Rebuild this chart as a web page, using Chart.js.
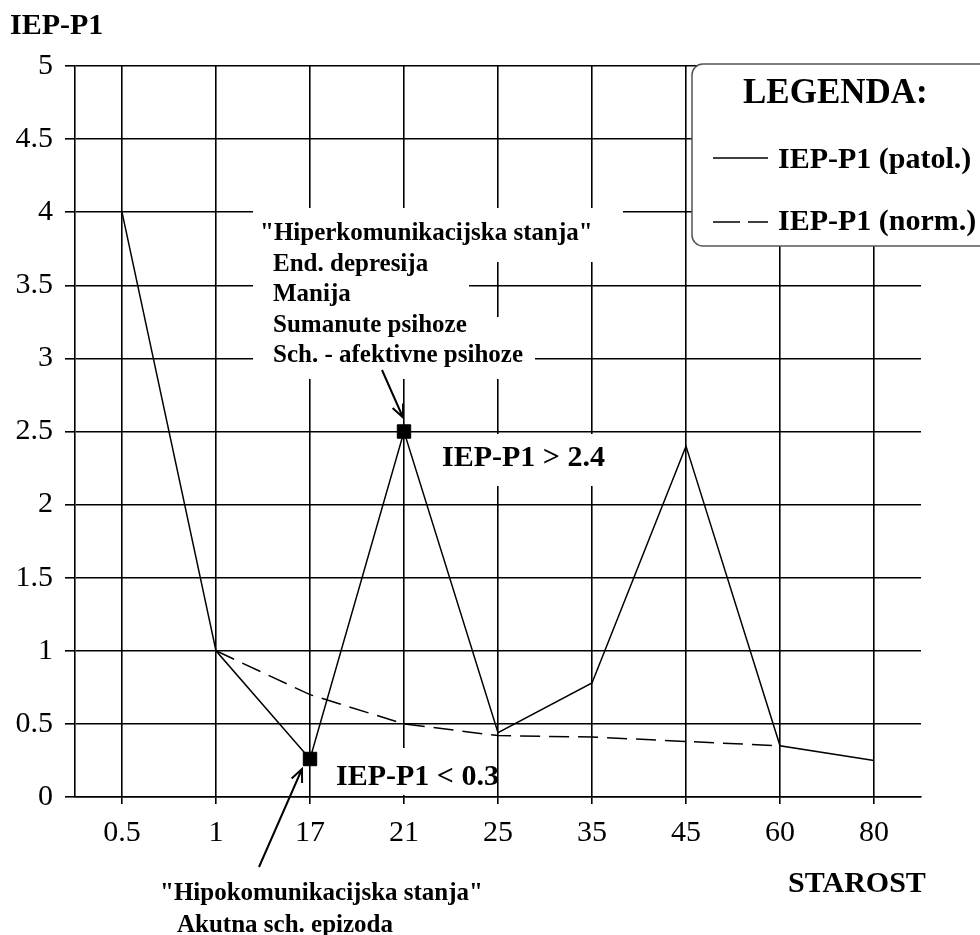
<!DOCTYPE html>
<html>
<head>
<meta charset="utf-8">
<script src="https://cdn.jsdelivr.net/npm/chart.js@4/dist/chart.umd.min.js"></script>
<style>
    html, body { margin: 0; padding: 0; background: #fff; }
    #wrap { width: 980px; height: 935px; position: relative; }
</style>
</head>
<body>
<div id="wrap"><canvas id="iepChart"></canvas></div>
<script>
const ages = ['0.5', '1', '17', '21', '25', '35', '45', '60', '80'];
const patolValues = [4, 1, 0.26, 2.5, 0.44, 0.78, 2.4, 0.35, 0.25];
const normValues = [null, 1, 0.7, 0.5, 0.42, 0.41, 0.38, 0.35, null];
const markedAges = ['17', '21'];

const hiperLines = ['"Hiperkomunikacijska stanja"', 'End. depresija', 'Manija', 'Sumanute psihoze', 'Sch. - afektivne psihoze'];
const hipoLines = ['"Hipokomunikacijska stanja"', 'Akutna sch. epizoda'];
const legendLabels = ['IEP-P1 (patol.)', 'IEP-P1 (norm.)'];

const SERIF = '"Liberation Serif", "Times New Roman", serif';

function arrow(ctx, x1, y1, x2, y2) {
    const a = Math.atan2(y2 - y1, x2 - x1), h = 14, s = 0.42;
    ctx.beginPath();
    ctx.moveTo(x1, y1); ctx.lineTo(x2, y2);
    ctx.moveTo(x2 - h * Math.cos(a - s), y2 - h * Math.sin(a - s));
    ctx.lineTo(x2, y2);
    ctx.lineTo(x2 - h * Math.cos(a + s), y2 - h * Math.sin(a + s));
    ctx.stroke();
}

// bijele pozadine, natpisi, strelice i legenda
const annotations = {
    id: 'annotations',
    beforeDatasetsDraw(chart) {
        const ctx = chart.ctx;
        const xs = chart.scales.x, ys = chart.scales.y;
        ctx.save();
        ctx.fillStyle = '#fff';
        ctx.fillRect(253, 208, 370, 54);
        ctx.fillRect(253, 262, 216, 55);
        ctx.fillRect(253, 317, 282, 62);
        ctx.fillRect(420, 434, 200, 52);
        ctx.fillRect(318, 748, 178, 47);

        ctx.fillStyle = '#000';
        ctx.textBaseline = 'alphabetic';
        ctx.textAlign = 'left';
        ctx.font = 'bold 30px ' + SERIF;
        ctx.fillText('IEP-P1', 10, 34);
        ctx.fillText('STAROST', 788, 892);
        ctx.fillText('IEP-P1 > 2.4', 442, 466);
        ctx.fillText('IEP-P1 < 0.3', 336, 785);

        ctx.font = 'bold 25px ' + SERIF;
        hiperLines.forEach((t, i) => ctx.fillText(t, i === 0 ? 260 : 273, 240 + i * 30.5));
        hipoLines.forEach((t, i) => ctx.fillText(t, i === 0 ? 160 : 177, 900 + i * 32));

        ctx.strokeStyle = '#000';
        ctx.lineWidth = 2;
        const i21 = ages.indexOf('21'), i17 = ages.indexOf('17');
        arrow(ctx, 382, 370, xs.getPixelForValue(i21) - 1, ys.getPixelForValue(patolValues[i21]) - 14);
        arrow(ctx, 259, 867, xs.getPixelForValue(i17) - 8, ys.getPixelForValue(patolValues[i17]) + 10);

        // legenda
        ctx.beginPath();
        ctx.roundRect(692, 64, 300, 182, 11);
        ctx.fillStyle = '#fff';
        ctx.fill();
        ctx.strokeStyle = '#555';
        ctx.lineWidth = 1.5;
        ctx.stroke();

        ctx.fillStyle = '#000';
        ctx.font = 'bold 35px ' + SERIF;
        ctx.fillText('LEGENDA:', 743, 103);
        ctx.font = 'bold 30px ' + SERIF;
        ctx.fillText(legendLabels[0], 778, 168);
        ctx.fillText(legendLabels[1], 778, 230);
        ctx.strokeStyle = '#000';
        ctx.lineWidth = 1.5;
        ctx.beginPath();
        ctx.moveTo(713, 158); ctx.lineTo(768, 158);
        ctx.stroke();
        ctx.setLineDash([27, 8]);
        ctx.beginPath();
        ctx.moveTo(713, 222); ctx.lineTo(768, 222);
        ctx.stroke();
        ctx.restore();
    }
};

const ctx = document.getElementById('iepChart').getContext('2d');
new Chart(ctx, {
    type: 'line',
    data: {
        labels: ages,
        datasets: [{
            label: legendLabels[0],
            data: patolValues,
            borderColor: '#000',
            backgroundColor: '#000',
            borderWidth: 1.5,
            pointStyle: 'rect',
            pointRadius: c => markedAges.includes(ages[c.dataIndex]) ? 9.5 : 0,
            pointBorderWidth: 1,
            tension: 0
        }, {
            label: legendLabels[1],
            data: normValues,
            borderColor: '#000',
            borderWidth: 1.5,
            borderDash: [20, 9],
            pointRadius: 0,
            tension: 0
        }]
    },
    options: {
        responsive: true,
        maintainAspectRatio: false,
        animation: false,
        devicePixelRatio: 1,
        layout: { padding: { top: 66, right: 59, left: 0, bottom: 0 } },
        plugins: { legend: { display: false }, tooltip: { enabled: false } },
        scales: {
            x: {
                offset: true,
                afterFit: s => { s.height = 138; },
                grid: { color: '#000', lineWidth: 1.6, tickLength: 7, offset: false },
                border: { color: '#000', width: 1.6 },
                ticks: { color: '#000', padding: 11, font: { family: SERIF, size: 30 } }
            },
            y: {
                min: 0,
                max: 5,
                afterFit: s => { s.width = 75; },
                grid: { color: '#000', lineWidth: 1.6, tickLength: 10 },
                border: { color: '#000', width: 1.6 },
                ticks: {
                    stepSize: 0.5,
                    color: '#000',
                    padding: 12,
                    font: { family: SERIF, size: 30 },
                    callback: v => String(+v.toFixed(1))
                }
            }
        }
    },
    plugins: [annotations]
});
</script>
</body>
</html>
